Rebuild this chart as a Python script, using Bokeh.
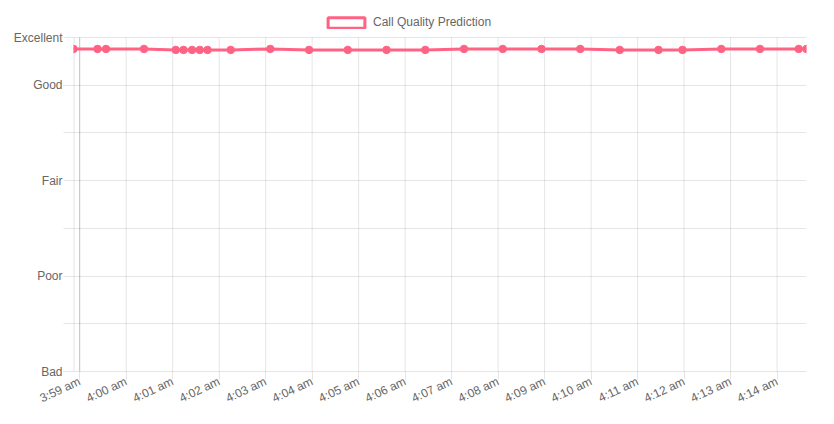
from bokeh.plotting import figure
from bokeh.models import Range1d, FixedTicker, Legend, LegendItem
from bokeh.embed import file_html
from bokeh.resources import INLINE

# ---- data ----
times = ["3:58:52", "3:59:23", "3:59:34", "4:00:23", "4:01:04", "4:01:14", "4:01:25",
         "4:01:35", "4:01:45", "4:02:15", "4:03:06", "4:03:56", "4:04:46", "4:05:36",
         "4:06:26", "4:07:16", "4:08:06", "4:08:56", "4:09:46", "4:10:37", "4:11:27",
         "4:11:58", "4:12:48", "4:13:38", "4:14:28", "4:14:38"]
quality = [4.38, 4.38, 4.38, 4.38, 4.37, 4.37, 4.37, 4.37, 4.37, 4.37, 4.38, 4.37,
           4.37, 4.37, 4.37, 4.38, 4.38, 4.38, 4.38, 4.37, 4.37, 4.37, 4.38, 4.38,
           4.38, 4.38]
tick_labels = ["3:59 am", "4:00 am", "4:01 am", "4:02 am", "4:03 am", "4:04 am",
               "4:05 am", "4:06 am", "4:07 am", "4:08 am", "4:09 am", "4:10 am",
               "4:11 am", "4:12 am", "4:13 am", "4:14 am"]
level_names = ["Bad", "Poor", "Fair", "Good", "Excellent"]
level_values = [1, 2, 3, 4, 4.5]
series_name = "Call Quality Prediction"

BASE = 3 * 60 + 59  # minutes of 3:59


def to_min(t):
    parts = [int(v) for v in t.split(":")]
    h, m = parts[0], parts[1]
    s = parts[2] if len(parts) > 2 else 0
    return h * 60 + m + s / 60.0 - BASE


def label_to_min(lbl):
    return to_min(lbl.split(" ")[0])


x = [to_min(t) for t in times]
tick_pos = [label_to_min(l) for l in tick_labels]

RED = "#ff6384"
GRID = (0, 0, 0, 0.1)
TXT = "#666666"
FONT = "Liberation Sans"
NAN = float("nan")

# layout (pixels)
W, H = 826, 416
LEFT, RIGHT, BOTTOM = 73, 20, 45
PLOT_TOP = 37            # where the top value sits, legend lives above it
FRAME_H = H - BOTTOM     # frame spans from canvas top to the x axis
ymin, ymax = min(level_values), max(level_values)
y_end = ymin + (ymax - ymin) * FRAME_H / (FRAME_H - PLOT_TOP)

p = figure(width=W, height=H, output_backend="svg", toolbar_location=None,
           x_range=Range1d(min(x), max(x)),
           y_range=Range1d(ymin, y_end),
           min_border_left=LEFT, min_border_right=RIGHT, min_border_top=0,
           min_border_bottom=BOTTOM)
p.outline_line_color = None
p.background_fill_color = "white"
p.border_fill_color = "white"

# y axis
half_steps = []
v = ymin
while v <= ymax + 1e-9:
    half_steps.append(round(v, 2))
    v += 0.5
yov = {hv: "" for hv in half_steps}
for n, lv in zip(level_names, level_values):
    yov[lv] = n
p.yaxis.ticker = FixedTicker(ticks=half_steps)
p.yaxis.major_label_overrides = yov
p.ygrid.ticker = FixedTicker(ticks=half_steps)
p.ygrid.grid_line_color = GRID
p.xgrid.grid_line_color = None

# x axis
p.xaxis.ticker = FixedTicker(ticks=tick_pos)
p.xaxis.major_label_overrides = {tp: lb for tp, lb in zip(tick_pos, tick_labels)}
p.xaxis.major_label_orientation = 0.44

for ax in (p.xaxis, p.yaxis):
    ax.major_tick_line_color = GRID
    ax.minor_tick_line_color = None
    ax.major_tick_in = 0
    ax.major_label_text_font = FONT
    ax.major_label_text_font_size = "12px"
    ax.major_label_text_color = TXT
p.xaxis.axis_line_color = GRID
p.yaxis.axis_line_color = None
p.yaxis.major_tick_out = 10
p.yaxis.major_label_standoff = 1
p.xaxis.major_tick_out = 8
p.xaxis.major_label_standoff = 1

# vertical grid lines limited to the value range, plus left border
p.segment(x0=tick_pos[1:], y0=[ymin] * (len(tick_pos) - 1),
          x1=tick_pos[1:], y1=[ymax] * (len(tick_pos) - 1),
          line_color=GRID, line_width=1)
p.segment(x0=[tick_pos[0]], y0=[ymin], x1=[tick_pos[0]], y1=[ymax],
          line_color=(0, 0, 0, 0.25), line_width=1)
p.segment(x0=[min(x)], y0=[ymin], x1=[min(x)], y1=[ymax],
          line_color=(0, 0, 0, 0.1), line_width=2)

p.line(x, quality, line_color=RED, line_width=3)
p.scatter(x, quality, size=7.5, fill_color=RED, line_color=RED, line_width=1)

# legend swatch: a box renderer with no visible data
leg_r = p.quad(left=[NAN], right=[NAN], top=[NAN], bottom=[NAN], fill_color="white",
               line_color=RED, line_width=3)
legend = Legend(items=[LegendItem(label=series_name, renderers=[leg_r])],
                location=(250, FRAME_H - 29), orientation="horizontal",
                glyph_width=46, glyph_height=13, label_height=12, label_standoff=4,
                padding=0, margin=0, spacing=0, border_line_color=None,
                background_fill_alpha=0,
                label_text_font=FONT, label_text_font_size="12px",
                label_text_color=TXT)
p.add_layout(legend, "center")

open("out.html", "w").write(file_html(p, INLINE))
